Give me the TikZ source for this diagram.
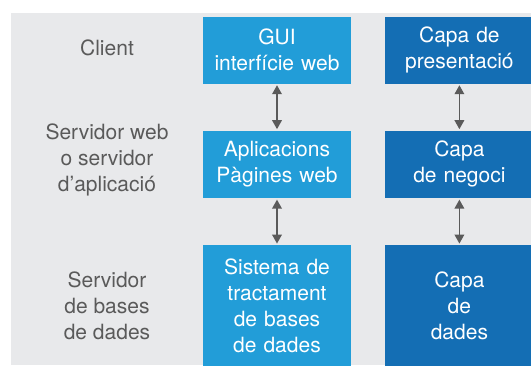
\documentclass[tikz,border=0pt]{standalone}
\usepackage{fontspec}
\setmainfont{TeX Gyre Heros}
\usetikzlibrary{shapes,arrows,arrows.meta,positioning}
\definecolor{guiblue}{HTML}{229DD8}
\definecolor{capablue}{HTML}{146EB4}
\definecolor{fonsgray}{HTML}{E8E9EB}
\definecolor{textgray}{HTML}{5A5A5A}
\tikzset{software/.style={rectangle, fill=guiblue, text=white, text width=140pt, align=center,
 minimum width=148pt, minimum height=67pt, inner sep=0pt, font=\fontsize{21}{26}\selectfont}}
\tikzset{capa/.style={software, fill=capablue}}
\tikzset{nivell/.style={text=textgray, align=center, inner sep=0pt, font=\fontsize{21}{26}\selectfont}}
\tikzset{line/.style={draw=textgray, line width=1.8pt, {Triangle[length=9pt,width=9.5pt]}-{Triangle[length=9pt,width=9.5pt]},
 shorten <=1.5pt, shorten >=1.5pt}}

\begin{document}
\begin{tikzpicture}[x=1pt, y=-1pt, node distance=47pt]
        \useasboundingbox (0,0) rectangle (531,365);
        \fill[fonsgray] (11,13) rectangle (531,365);

        \node[software] at (277,50)      (gui){GUI\\interfície web};
        \node[software, below=of gui]    (apli){Aplicacions\\Pàgines web};
        \node[software, below=of apli, minimum height=121pt] (sgbd){Sistema de\\tractament\\de bases\\de dades};

        \node[capa, right=34pt of gui]   (present){Capa de\\presentació};
        \node[capa, right=34pt of apli]  (negoci){Capa\\de negoci};
        \node[capa, right=34pt of sgbd, minimum height=121pt] (dades){Capa\\de\\dades};

        \node[nivell] at (107,48)        (client){Client};
        \node[nivell] at (107,160)       (servweb){Servidor web\\o servidor\\d’aplicació};
        \node[nivell] at (107,306)       (servbd){Servidor\\de bases\\de dades};

        \path[line] (gui) --             (apli);
        \path[line] (apli) --            (sgbd);
        \path[line] (present) --         (negoci);
        \path[line] (negoci) --          (dades);
      \end{tikzpicture}
\end{document}
